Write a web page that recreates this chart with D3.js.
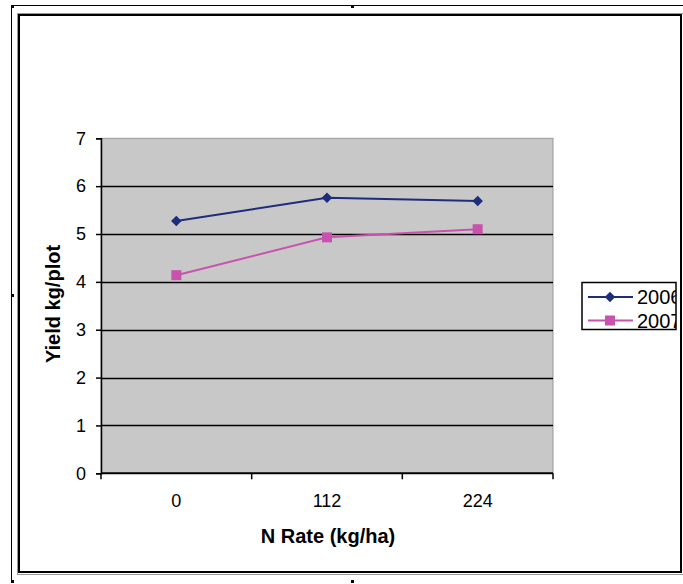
<!DOCTYPE html>
<html><head><meta charset="utf-8">
<script src="https://cdn.jsdelivr.net/npm/d3@7"></script>
<style>body{margin:0;background:#fff}svg{display:block}</style>
</head><body>
<svg id="c" width="683" height="584"></svg>
<script>
const categories = ["0", "112", "224"];
const seriesNames = ["2006", "2007"];
const yield2006 = [5.27, 5.76, 5.69];
const yield2007 = [4.14, 4.93, 5.10];
const yTicks = [0, 1, 2, 3, 4, 5, 6, 7];
const colors = ["#1e2c7c", "#c852ae"];

(function(){
const svg = d3.select("#c");
const font = "Arial, 'Liberation Sans', sans-serif";

// outer thin frame
svg.append("line").attr("x1",11.5).attr("y1",5.5).attr("x2",683).attr("y2",5.5).attr("stroke","#000").attr("stroke-width",1);
svg.append("line").attr("x1",11.5).attr("y1",5.5).attr("x2",11.5).attr("y2",582).attr("stroke","#000").attr("stroke-width",1);
[[11,5],[351,5],[11,294],[351,580],[11,580]].forEach(p=>{
  svg.append("rect").attr("x",p[0]).attr("y",p[1]).attr("width",3).attr("height",3).attr("fill","#000");
});

// chart area frame
svg.append("rect").attr("x",17.5).attr("y",13.5).attr("width",666).attr("height",561).attr("fill","none").attr("stroke","#999").attr("stroke-width",1);
svg.append("rect").attr("x",19).attr("y",15).attr("width",662).attr("height",557).attr("fill","#fff").attr("stroke","#000").attr("stroke-width",2);

const pL = 101, pR = 553, pT = 138.3, pB = 473.3;
const x = d3.scaleBand().domain(categories).range([pL, pR]);
const y = d3.scaleLinear().domain([0, 7]).range([pB, pT]);

// plot area
svg.append("rect").attr("x",pL).attr("y",pT).attr("width",pR-pL).attr("height",pB-pT)
  .attr("fill","#c8c8c8").attr("stroke","#999").attr("stroke-width",1);

// gridlines
svg.append("g").selectAll("line").data(yTicks.filter(d=>d>0&&d<7)).join("line")
  .attr("x1",pL).attr("x2",pR).attr("y1",d=>Math.round(y(d))+0.5).attr("y2",d=>Math.round(y(d))+0.5)
  .attr("stroke","#000").attr("stroke-width",1.6);

// y axis
const yAxis = svg.append("g").attr("transform",`translate(${pL},0)`)
  .call(d3.axisLeft(y).tickValues(yTicks).tickFormat(d3.format("d")).tickSize(5).tickPadding(10));
yAxis.select(".domain").attr("stroke","#000").attr("stroke-width",1.5);
yAxis.selectAll(".tick line").attr("stroke","#000").attr("stroke-width",1.5);
yAxis.selectAll("text").attr("font-family",font).attr("font-size",18).attr("fill","#000");

// x axis
const xAxis = svg.append("g").attr("transform",`translate(0,${pB})`)
  .call(d3.axisBottom(x).tickSize(0).tickPadding(21));
xAxis.select(".domain").remove();
svg.append("line").attr("x1",pL).attr("x2",pR).attr("y1",pB).attr("y2",pB).attr("stroke","#000").attr("stroke-width",2);
const bounds = categories.map(c=>x(c)).concat([pR]);
svg.append("g").selectAll("line").data(bounds).join("line")
  .attr("x1",d=>d).attr("x2",d=>d).attr("y1",pB).attr("y2",pB+6).attr("stroke","#000").attr("stroke-width",1.5);
xAxis.selectAll("text").attr("font-family",font).attr("font-size",18).attr("fill","#000");

// axis titles
svg.append("text").attr("x",328).attr("y",543).attr("text-anchor","middle")
  .attr("font-family",font).attr("font-size",20).attr("font-weight","bold").text("N Rate (kg/ha)");
svg.append("text").attr("transform","translate(60,304) rotate(-90)").attr("text-anchor","middle")
  .attr("font-family",font).attr("font-size",20).attr("font-weight","bold").text("Yield kg/plot");

// series
const cx = c => x(c) + x.bandwidth()/2;
const line = d3.line().x((d,i)=>cx(categories[i])).y(d=>y(d));
const data = [yield2006, yield2007];
data.forEach((vals,si)=>{
  svg.append("path").attr("d",line(vals)).attr("fill","none").attr("stroke",colors[si]).attr("stroke-width",2);
});
svg.append("g").selectAll("path").data(yield2006).join("path")
  .attr("d",d3.symbol(d3.symbolDiamond2,70)).attr("transform",(d,i)=>`translate(${cx(categories[i])},${y(d)})`).attr("fill",colors[0]);
svg.append("g").selectAll("rect").data(yield2007).join("rect")
  .attr("x",(d,i)=>cx(categories[i])-5).attr("y",d=>y(d)-5).attr("width",10).attr("height",10).attr("fill",colors[1]);

// legend
const lg = svg.append("g");
lg.append("clipPath").attr("id","lc").append("rect").attr("x",582).attr("y",282).attr("width",94).attr("height",48);
lg.append("rect").attr("x",582).attr("y",282.5).attr("width",94).attr("height",47).attr("fill","#fff").attr("stroke","#000").attr("stroke-width",1.5);
const lgc = lg.append("g").attr("clip-path","url(#lc)");
seriesNames.forEach((n,i)=>{
  const yy = 297 + i*23.5;
  lgc.append("line").attr("x1",588).attr("x2",633).attr("y1",yy).attr("y2",yy).attr("stroke",colors[i]).attr("stroke-width",2);
  if(i===0) lgc.append("path").attr("d",d3.symbol(d3.symbolDiamond2,70)).attr("transform",`translate(610,${yy})`).attr("fill",colors[i]);
  else lgc.append("rect").attr("x",605).attr("y",yy-5).attr("width",10).attr("height",10).attr("fill",colors[i]);
  lgc.append("text").attr("x",637).attr("y",yy+7).attr("font-family",font).attr("font-size",20).attr("fill","#000").text(n);
});
})();
</script>
</body></html>
